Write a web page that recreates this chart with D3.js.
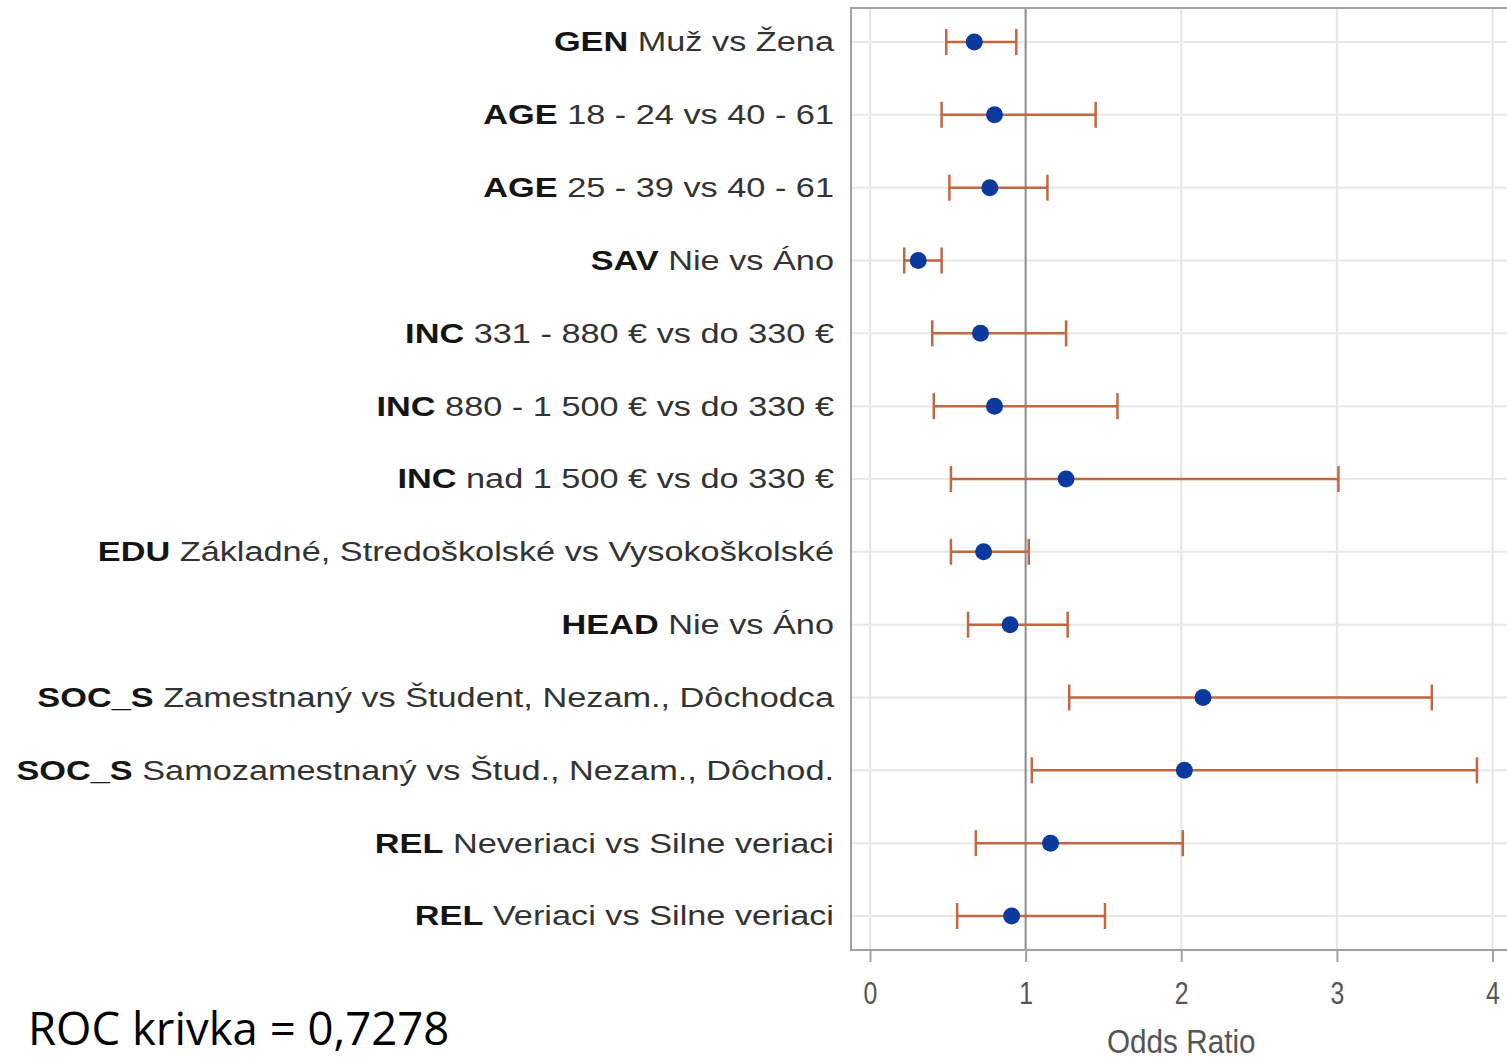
<!DOCTYPE html>
<html><head><meta charset="utf-8">
<script src="https://cdn.jsdelivr.net/npm/d3@7"></script>
<style>body{margin:0;background:#fff;} svg{display:block;}</style>
</head><body>
<script>
const varNames = ["GEN","AGE","AGE","SAV","INC","INC","INC","EDU","HEAD","SOC_S","SOC_S","REL","REL"];
const levelTexts = ["Muž vs Žena","18 - 24 vs 40 - 61","25 - 39 vs 40 - 61","Nie vs Áno","331 - 880 € vs do 330 €","880 - 1 500 € vs do 330 €","nad 1 500 € vs do 330 €","Základné, Stredoškolské vs Vysokoškolské","Nie vs Áno","Zamestnaný vs Študent, Nezam., Dôchodca","Samozamestnaný vs Štud., Nezam., Dôchod.","Neveriaci vs Silne veriaci","Veriaci vs Silne veriaci"];
const oddsRatio = [0.67,0.80,0.77,0.31,0.71,0.80,1.26,0.73,0.90,2.14,2.02,1.16,0.91];
const lowerCL   = [0.49,0.46,0.51,0.22,0.40,0.41,0.52,0.52,0.63,1.28,1.04,0.68,0.56];
const upperCL   = [0.94,1.45,1.14,0.46,1.26,1.59,3.01,1.02,1.27,3.61,3.90,2.01,1.51];
const xTicks = [0,1,2,3,4];
const xTitle = "Odds Ratio";
const rocText = "ROC krivka = 0,7278";

const W=1507,H=1060;
const svg=d3.select("body").append("svg").attr("width",W).attr("height",H);
const plot={left:851,top:8,bottom:950,right:1530};
const x=d3.scaleLinear().domain([0,4]).range([870,1492.5]);
const idx=d3.range(varNames.length);
const y=d3.scalePoint().domain(idx).range([42,916]);

// gridlines
svg.append("g").selectAll("line").data(xTicks).join("line")
  .attr("x1",d=>x(d)).attr("x2",d=>x(d)).attr("y1",plot.top).attr("y2",plot.bottom)
  .attr("stroke","#e3e5e8").attr("stroke-width",2);
svg.append("g").selectAll("line").data(idx).join("line")
  .attr("x1",plot.left).attr("x2",plot.right).attr("y1",d=>y(d)).attr("y2",d=>y(d))
  .attr("stroke","#e8e8e8").attr("stroke-width",2);
// reference line
svg.append("line").attr("x1",x(1)).attr("x2",x(1)).attr("y1",plot.top).attr("y2",plot.bottom)
  .attr("stroke","#8c9196").attr("stroke-width",2);
// frame
svg.append("rect").attr("x",plot.left).attr("y",plot.top).attr("width",plot.right-plot.left).attr("height",plot.bottom-plot.top)
  .attr("fill","none").attr("stroke","#9da3a8").attr("stroke-width",2);

// axis
const ax=svg.append("g").attr("transform",`translate(0,${plot.bottom})`)
  .call(d3.axisBottom(x).tickValues(xTicks).tickFormat(d3.format("d")).tickSize(12).tickPadding(20));
ax.select(".domain").remove();
ax.selectAll("line").attr("stroke","#9da3a8").attr("stroke-width",2);
ax.selectAll(".tick text").each(function(){
  const t=d3.select(this);
  t.attr("font-family","Liberation Sans, Arial").attr("font-size",31).attr("fill","#555")
   .attr("transform","scale(0.8,1)");
});
svg.append("text").attr("transform",`translate(${x(2)},1053) scale(0.9,1)`).attr("text-anchor","middle")
  .attr("font-family","Liberation Sans, Arial").attr("font-size",33).attr("fill","#555").text(xTitle);

// error bars
const col="#c4663f";
const eb=svg.append("g");
eb.selectAll(".bar").data(idx).join("line")
  .attr("x1",i=>x(lowerCL[i])).attr("x2",i=>x(upperCL[i])).attr("y1",i=>y(i)).attr("y2",i=>y(i))
  .attr("stroke",col).attr("stroke-width",2.5);
eb.selectAll(".capl").data(idx).join("line")
  .attr("x1",i=>x(lowerCL[i])).attr("x2",i=>x(lowerCL[i])).attr("y1",i=>y(i)-13).attr("y2",i=>y(i)+13)
  .attr("stroke",col).attr("stroke-width",2.5);
eb.selectAll(".capu").data(idx).join("line")
  .attr("class","capu")
  .attr("x1",i=>x(upperCL[i])).attr("x2",i=>x(upperCL[i])).attr("y1",i=>y(i)-13).attr("y2",i=>y(i)+13)
  .attr("stroke",col).attr("stroke-width",2.5);
svg.append("g").selectAll("circle").data(idx).join("circle")
  .attr("cx",i=>x(oddsRatio[i])).attr("cy",i=>y(i)).attr("r",8.5).attr("fill","#0b3a9e");

// labels
const lab=svg.append("g").selectAll("text").data(idx).join("text")
  .attr("transform",i=>`translate(834,${y(i)}) scale(1.27,1)`).attr("dy","0.35em").attr("text-anchor","end")
  .attr("font-family","Liberation Sans, Arial").attr("font-size",27).attr("fill","#333");
lab.append("tspan").attr("font-weight","bold").attr("fill","#151515").text(i=>varNames[i]);
lab.append("tspan").text(i=>" "+levelTexts[i]);

svg.append("text").attr("x",28).attr("y",1045).attr("font-family","Open Sans, Liberation Sans").attr("font-size",45.5).attr("fill","#000").text(rocText);
</script>
</body></html>
